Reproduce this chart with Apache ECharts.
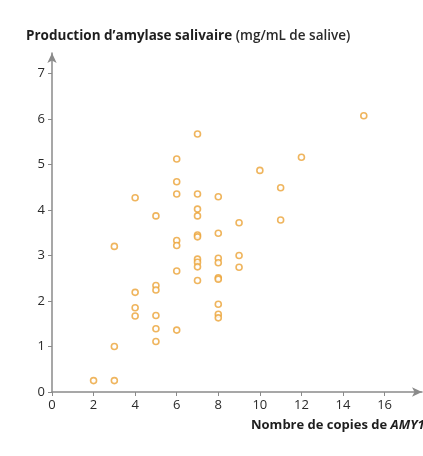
<!DOCTYPE html>
<html><head><meta charset="utf-8">
<script src="https://cdn.jsdelivr.net/npm/echarts@6/dist/echarts.min.js"></script>
<style>html,body{margin:0;padding:0;background:#fff}#c{width:423px;height:456px}</style>
</head><body><div id="c"></div>
<script>
var copies  = [2,3,3,3, 4,4,4,4, 5,5,5,5,5,5, 6,6,6,6,6,6,6, 7,7,7,7,7,7,7,7,7,7, 8,8,8,8,8,8,8,8,8, 9,9,9, 10,11,11,12,15];
var amylase = [0.25,0.25,1.0,3.2, 4.27,2.19,1.85,1.67, 3.87,2.34,2.24,1.68,1.39,1.11, 5.12,4.62,4.35,3.33,3.22,2.66,1.36, 5.67,4.35,4.02,3.87,3.45,3.41,2.92,2.85,2.75,2.45, 4.29,3.49,2.94,2.84,2.51,2.48,1.93,1.71,1.63, 3.72,3.0,2.74, 4.87,4.49,3.78,5.16,6.07];
var yTitle = ["Production d\u2019amylase salivaire", " (mg/mL de salive)"];
var xTitle = ["Nombre de copies de ", "AMY1"];

var data = copies.map(function(c,i){return [c, amylase[i]];});
var chart = echarts.init(document.getElementById('c'), null, {renderer:'canvas'});
var font = '"Open Sans", sans-serif';
var axisCol = '#8a8a8a';
chart.setOption({
  animation:false,
  backgroundColor:'#fff',
  title:[{
    left:21, top:24,
    text:'{b|'+yTitle[0]+'}{r|'+yTitle[1]+'}',
    textStyle:{rich:{
      b:{fontFamily:font,fontWeight:'bold',fontSize:13.5,color:'#1e1e1e'},
      r:{fontFamily:font,fontWeight:600,fontSize:13.5,color:'#2a2a2a'}
    }}
  },{
    left:246, top:414,
    text:'{b|'+xTitle[0]+'}{i|'+xTitle[1]+'}',
    textStyle:{rich:{
      b:{fontFamily:font,fontWeight:'bold',fontSize:13,color:'#1e1e1e'},
      i:{fontFamily:font,fontWeight:'bold',fontStyle:'italic',fontSize:13,color:'#1e1e1e'}
    }}
  }],
  grid:{left:52,top:53,right:1,bottom:64,containLabel:false},
  xAxis:{
    type:'value', min:0, max:17.8, interval:2,
    axisLine:{show:true,lineStyle:{color:axisCol,width:1.5},symbol:['none','arrow'],symbolSize:[7,10]},
    axisTick:{show:true,length:4,lineStyle:{color:axisCol}},
    axisLabel:{showMaxLabel:false,color:'#2a2a2a',fontFamily:font,fontSize:13,margin:7},
    splitLine:{show:false}
  },
  yAxis:{
    type:'value', min:0, max:7.45, interval:1,
    axisLine:{show:true,lineStyle:{color:axisCol,width:1.5},symbol:['none','arrow'],symbolSize:[7,10]},
    axisTick:{show:true,length:4,lineStyle:{color:axisCol}},
    axisLabel:{showMaxLabel:false,color:'#2a2a2a',fontFamily:font,fontSize:13,margin:7},
    splitLine:{show:false}
  },
  series:[{
    type:'scatter',
    data:data,
    symbol:'circle',
    symbolSize:6,
    itemStyle:{color:'#fff',borderColor:'#eba236',borderWidth:1.6}
  }]
});
</script></body></html>
